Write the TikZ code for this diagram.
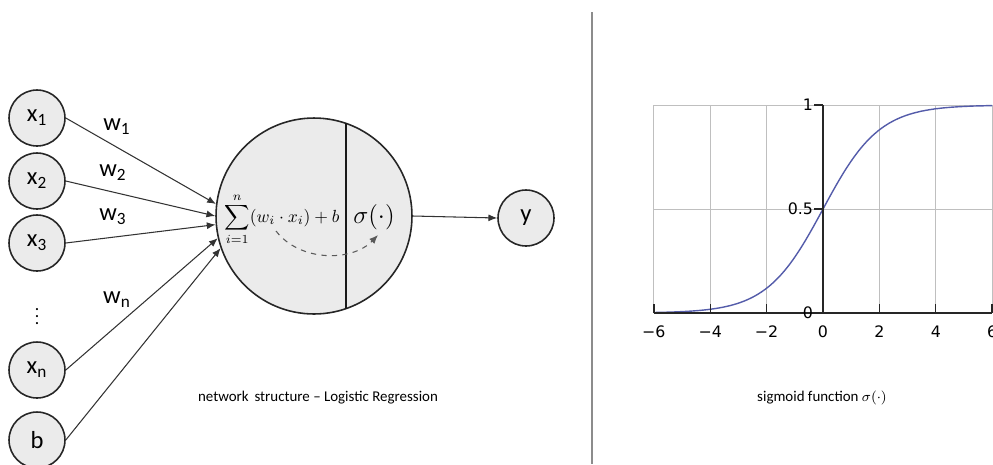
\documentclass[tikz,border=0pt]{standalone}
\usepackage{amsmath}
\usepackage{fontspec}
\setmainfont{Carlito}
\newfontfamily\plotfont{DejaVu Sans}
\usetikzlibrary{arrows.meta,calc}
\definecolor{curveblue}{RGB}{84,92,170}

\begin{document}
\begin{tikzpicture}[x=0.02cm, y=-0.02cm,
    unit/.style={circle, draw=black!85, line width=0.9pt, fill=black!8,
        minimum size=1.12cm, inner sep=0pt, font=\fontsize{14}{16}\selectfont},
    link/.style={draw=black!80, line width=0.6pt, -{Latex[length=5pt,width=4pt]}},
    wlabel/.style={font=\fontsize{14}{16}\selectfont},
    caption/.style={font=\fontsize{8.5}{10}\selectfont}]
    \useasboundingbox (0,0) rectangle (993,464);

    % 左边：网络结构
    \node[unit] (x1) at (37,118) {x\textsubscript{1}};
    \node[unit] (x2) at (37,181) {x\textsubscript{2}};
    \node[unit] (x3) at (37,243) {x\textsubscript{3}};
    \node (dots) at (37,311) {$\vdots$};
    \node[unit] (xn) at (37,370) {x\textsubscript{n}};
    \node[unit] (b) at (37,440) {b};

    % 神经元
    \node[unit, minimum size=3.92cm] (neuron) at (314,216) {};
    \draw[black!90, line width=1.1pt] (neuron.71.5) -- (neuron.-71.5);
    \node[font=\fontsize{10}{12}\selectfont] (sum) at (282,219)
        {$\displaystyle\sum_{i=1}^{n}(w_i\cdot x_i)+b$};
    \node[font=\fontsize{15}{17}\selectfont] (act) at (374,217) {$\sigma(\cdot)$};
    \coordinate (dsrc) at (276,231);
    \coordinate (ddst) at (378,235);
    \draw[dashed, black!65, line width=0.6pt, -{Latex[length=5pt,width=4pt]}]
        (dsrc) .. controls (300,262) and (352,262) .. (ddst);

    % 输入连线
    \foreach \src/\ang in {x1/173, x2/180, x3/185, xn/193, b/199}{
        \draw[link] (\src.east) -- (neuron.\ang);
    }
    \node[wlabel] (w1) at (117,127) {w\textsubscript{1}};
    \node[wlabel] (w2) at (113,173) {w\textsubscript{2}};
    \node[wlabel] (w3) at (113,217) {w\textsubscript{3}};
    \node[wlabel] (wn) at (117,300) {w\textsubscript{n}};

    % 输出
    \node[unit] (y) at (526,218) {y};
    \draw[link] (neuron.east) -- (y.west);

    \node[caption] (cap1) at (318,398) {network\, structure -- Logistic Regression};

    % 分隔线
    \draw[black!45, line width=0.8pt] (592,12) -- (592,464);

    % 右边：sigmoid 曲线
    \begin{scope}[shift={(823,313)}, x=0.564cm, y=4.16cm]
        \foreach \x in {-6,-4,-2,2,4,6}{
            \draw[black!25, line width=0.5pt] (\x,0) -- (\x,1);
        }
        \foreach \y in {0.5,1}{
            \draw[black!25, line width=0.5pt] (-6,\y) -- (6,\y);
        }
        \draw[curveblue, line width=0.8pt, domain=-6:6, samples=120]
            plot (\x,{1/(1+exp(-\x))});
        % 坐标轴
        \draw[black!85, line width=0.8pt] (-6,0) -- (6,0);
        \draw[black!85, line width=0.8pt] (0,0) -- (0,1);
        \foreach \x/\lab in {-6/−6,-4/−4,-2/−2,0/0,2/2,4/4,6/6}{
            \draw[black!85, line width=0.8pt] (\x,0) -- ++(0,5pt);
            \node[font=\plotfont\fontsize{9}{10}\selectfont, anchor=center] (tx\x) at ($(\x,0)+(0,-10.5pt)$) {\lab};
        }
        \foreach \y in {0,0.5,1}{
            \draw[black!85, line width=0.8pt] (0,\y) -- ++(-5pt,0);
            \node[font=\plotfont\fontsize{9}{10}\selectfont, anchor=east, inner sep=0pt] (ty\y) at ($(0,\y)+(-5.5pt,0)$) {\y};
        }
    \end{scope}
    \node[caption] (cap2) at (822,398) {sigmoid function $\sigma(\cdot)$};
\end{tikzpicture}
\end{document}
